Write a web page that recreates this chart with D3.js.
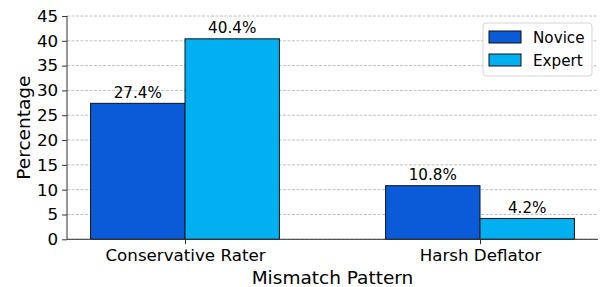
<!DOCTYPE html>
<html>
<head>
<meta charset="utf-8">
<script src="https://cdn.jsdelivr.net/npm/d3@7"></script>
<style>
  body { margin: 0; background: #fff; }
  text { font-family: "DejaVu Sans", sans-serif; fill: #000; }
</style>
</head>
<body>
<div class="chart"></div>
<script>
const categories = ["Conservative Rater", "Harsh Deflator"]
const seriesNames = ["Novice", "Expert"]
const novice = [27.4, 10.8]
const expert = [40.4, 4.2]
const yTicks = [0, 5, 10, 15, 20, 25, 30, 35, 40, 45]
const colors = ["#0b5bd8", "#00b0f0"]

const dimensions = {
    width: 600,
    height: 287,
    margin: { top: 16, right: 2, bottom: 47.7, left: 67 },
}
dimensions.boundedWidth = dimensions.width - dimensions.margin.left - dimensions.margin.right
dimensions.boundedHeight = dimensions.height - dimensions.margin.top - dimensions.margin.bottom

const barWidth = 0.32

const x = d3.scaleLinear().domain([-0.4, 1.4]).range([0, dimensions.boundedWidth])
const y = d3.scaleLinear().domain([0, 45]).range([dimensions.boundedHeight, 0])

const wrapper = d3.select(".chart").append("svg")
    .attr("width", dimensions.width)
    .attr("height", dimensions.height)

const bounds = wrapper.append("g")
    .attr("transform", `translate(${dimensions.margin.left},${dimensions.margin.top})`)

// grid
bounds.selectAll(".grid")
    .data(yTicks)
    .join("line")
    .attr("x1", 0).attr("x2", dimensions.boundedWidth)
    .attr("y1", d => y(d)).attr("y2", d => y(d))
    .attr("stroke", "#b0b0b0")
    .attr("stroke-width", 0.8)
    .attr("stroke-dasharray", "3,1.5")

// bars
const data = []
categories.forEach((c, i) => {
    data.push({ cat: i, s: 0, v: novice[i] })
    data.push({ cat: i, s: 1, v: expert[i] })
})

bounds.selectAll(".bar")
    .data(data)
    .join("rect")
    .attr("x", d => x(d.s == 0 ? d.cat - barWidth : d.cat))
    .attr("width", x(barWidth) - x(0))
    .attr("y", d => y(d.v))
    .attr("height", d => y(0) - y(d.v))
    .attr("fill", d => colors[d.s])
    .attr("stroke", "#111")
    .attr("stroke-width", 1)

bounds.selectAll(".val")
    .data(data)
    .join("text")
    .attr("x", d => x(d.s == 0 ? d.cat - barWidth / 2 : d.cat + barWidth / 2))
    .attr("y", d => y(d.v) - 5.5)
    .attr("text-anchor", "middle")
    .style("font-size", "15.2px")
    .text(d => d.v.toFixed(1) + "%")

// axes
const yAxis = bounds.append("g")
    .call(d3.axisLeft(y).tickValues(yTicks).tickSize(4.9).tickPadding(4))
const xAxis = bounds.append("g")
    .attr("transform", `translate(0,${dimensions.boundedHeight})`)
    .call(d3.axisBottom(x).tickValues([0, 1]).tickFormat(i => categories[i]).tickSize(4.9).tickPadding(4.5))

;[yAxis, xAxis].forEach(a => {
    a.select(".domain").attr("stroke", "#333").attr("stroke-width", 1)
    a.selectAll(".tick line").attr("stroke", "#333").attr("stroke-width", 1)
    a.selectAll("text").style("font-size", "16.7px").attr("fill", "#000")
        .style("font-family", "DejaVu Sans, sans-serif")
})
yAxis.select(".domain").attr("d", `M0,${dimensions.boundedHeight}V0`)
xAxis.select(".domain").attr("d", `M0,0H${dimensions.boundedWidth}`)

bounds.append("text")
    .attr("transform", `translate(${30 - dimensions.margin.left},${dimensions.boundedHeight / 2}) rotate(-90)`)
    .attr("text-anchor", "middle")
    .style("font-size", "18.5px")
    .text("Percentage")

bounds.append("text")
    .attr("x", dimensions.boundedWidth / 2)
    .attr("y", 284 - dimensions.margin.top)
    .attr("text-anchor", "middle")
    .style("font-size", "18.5px")
    .text("Mismatch Pattern")

// legend
const legend = wrapper.append("g").attr("transform", "translate(483,23)")
legend.append("rect")
    .attr("width", 109).attr("height", 53)
    .attr("rx", 3)
    .attr("fill", "rgba(255,255,255,0.85)")
    .attr("stroke", "#d5d5d5")
    .attr("stroke-width", 1)

const items = legend.selectAll(".item")
    .data(seriesNames)
    .join("g")
    .attr("transform", (d, i) => `translate(6,${8 + i * 23})`)
items.append("rect")
    .attr("width", 32).attr("height", 12)
    .attr("fill", (d, i) => colors[i])
    .attr("stroke", "#111").attr("stroke-width", 1)
items.append("text")
    .attr("x", 44).attr("y", 11.5)
    .style("font-size", "15.2px")
    .text(d => d)
</script>
</body>
</html>
